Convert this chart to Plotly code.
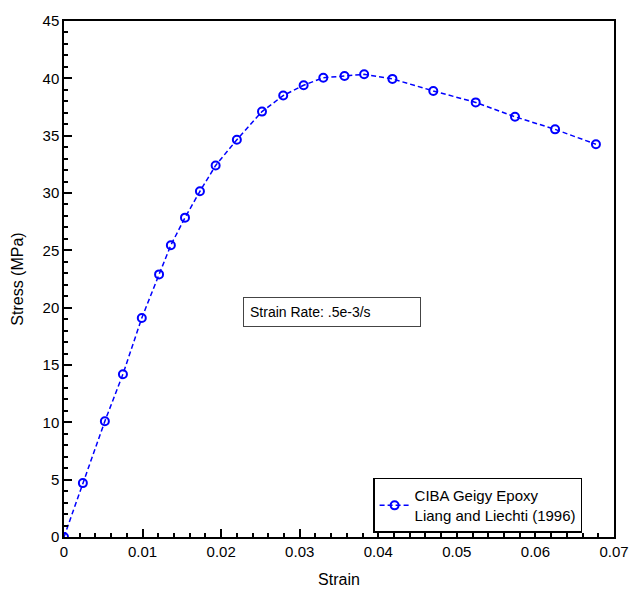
import plotly.graph_objects as go

# Stress-strain data for CIBA Geigy epoxy, strain rate 0.5e-3/s
strain = [0.0, 0.0024, 0.0052, 0.0075, 0.0099, 0.0121, 0.0136, 0.0154, 0.0173,
          0.0193, 0.0220, 0.0252, 0.0279, 0.0305, 0.0330, 0.0357, 0.0382,
          0.0418, 0.0470, 0.0524, 0.0574, 0.0625, 0.0677]
stress = [0.0, 4.7, 10.1, 14.2, 19.1, 22.9, 25.45, 27.85, 30.15,
          32.4, 34.65, 37.1, 38.5, 39.4, 40.05, 40.2, 40.35,
          39.95, 38.9, 37.9, 36.65, 35.55, 34.25]

x_ticks = [0, 0.01, 0.02, 0.03, 0.04, 0.05, 0.06, 0.07]
x_tick_labels = ["0", "0.01", "0.02", "0.03", "0.04", "0.05", "0.06", "0.07"]

series_name = "CIBA Geigy Epoxy<br>Liang and Liechti (1996)"
rate_label = "Strain Rate: .5e-3/s"

FONT = "Liberation Sans, Arial"

fig = go.Figure()
fig.add_trace(go.Scatter(
    x=strain, y=stress, mode="lines+markers", name=series_name,
    line=dict(color="#0000ff", width=1.5, dash="5px,3px"),
    marker=dict(symbol="circle-open", size=8, color="#0000ff",
                line=dict(width=2, color="#0000ff")),
))

axis_common = dict(
    showline=True, linecolor="black", linewidth=1.5, mirror=True,
    ticks="inside", ticklen=8, tickwidth=2, tickcolor="black",
    tickfont=dict(family=FONT, size=15, color="black"),
)

fig.update_xaxes(
    range=[0, 0.07], tickvals=x_ticks, ticktext=x_tick_labels,
    minor=dict(dtick=0.002, ticks="inside", ticklen=4, tickwidth=1.5,
               tickcolor="black"),
    title=dict(text="Strain", font=dict(family=FONT, size=16, color="black")),
    **axis_common,
)
fig.update_yaxes(
    range=[0, 45], dtick=5,
    minor=dict(dtick=1, ticks="inside", ticklen=4, tickwidth=1.5,
               tickcolor="black"),
    title=dict(text="Stress (MPa)", font=dict(family=FONT, size=16, color="black")),
    **axis_common,
)

fig.add_annotation(
    x=0.0228, y=19.6, xref="x", yref="y", text=rate_label, showarrow=False,
    xanchor="left", yanchor="middle", align="left",
    font=dict(family=FONT, size=14, color="black"),
    bordercolor="#444", borderwidth=1, borderpad=6, bgcolor="white",
    width=164,
)

fig.update_layout(
    template="simple_white",
    width=641, height=598,
    margin=dict(l=64, r=17, t=14, b=49),
    showlegend=True,
    legend=dict(
        x=0.562, y=0.008, xanchor="left", yanchor="bottom",
        bordercolor="black", borderwidth=1.5, bgcolor="white",
        font=dict(family=FONT, size=15, color="black"),
        itemwidth=30, tracegroupgap=0,
    ),
)

fig.write_html("out.html")
